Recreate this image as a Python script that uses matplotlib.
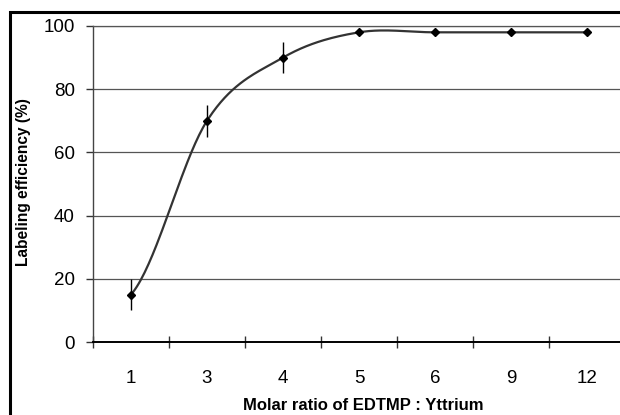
import numpy as np
import matplotlib
matplotlib.use("Agg")
import matplotlib.pyplot as plt
from matplotlib.patches import Rectangle

plt.rcParams['font.family'] = ['Liberation Sans', 'DejaVu Sans']

# data
ratios = ["1", "3", "4", "5", "6", "9", "12"]
efficiency = [15, 70, 90, 98, 98, 98, 98]
err = [5, 5, 5, 1, 0.5, 0.5, 0.5]
yticks = [0, 20, 40, 60, 80, 100]


def smooth_line(y, n=40):
    # Catmull-Rom curve through the points (like Excel's "smoothed line")
    y = np.asarray(y, float)
    pts = np.concatenate([[y[0]], y, [y[-1]]])
    xs, ys = [], []
    for i in range(len(y) - 1):
        p0, p1, p2, p3 = pts[i], pts[i + 1], pts[i + 2], pts[i + 3]
        t = np.linspace(0, 1, n)
        m1 = (p2 - p0) / 2
        m2 = (p3 - p1) / 2
        h00 = 2 * t**3 - 3 * t**2 + 1
        h10 = t**3 - 2 * t**2 + t
        h01 = -2 * t**3 + 3 * t**2
        h11 = t**3 - t**2
        xs.append(i + t)
        ys.append(h00 * p1 + h10 * m1 + h01 * p2 + h11 * m2)
    return np.concatenate(xs), np.concatenate(ys)


fig = plt.figure(figsize=(6.2, 4.15), dpi=100)
ax = fig.add_axes([93 / 620, 73 / 415, 532 / 620, 316 / 415])

x = np.arange(len(ratios))
sx, sy = smooth_line(efficiency)
ax.plot(sx, sy, color="#333333", lw=1.6, zorder=3)
ax.errorbar(x, efficiency, yerr=err, fmt="D", color="black", ms=4.5,
            elinewidth=1.0, capsize=0, zorder=4)

ax.set_xlim(-0.5, len(ratios) - 0.5)
ax.set_ylim(0, 100)
ax.set_yticks(yticks)
ax.yaxis.grid(True, color="#555555", lw=0.9)
ax.set_axisbelow(True)

ax.set_xticks(x)
ax.set_xticklabels(ratios)
ax.set_xticks(np.arange(len(ratios) + 1) - 0.5, minor=True)
ax.tick_params(axis="x", which="major", length=0, pad=20, labelsize=13.5)
ax.tick_params(axis="x", which="minor", direction="inout", length=8.5,
               width=1.0, color="#333333")
ax.tick_params(axis="y", direction="out", length=5, width=1.0,
               color="#333333", pad=8, labelsize=13.5)

ax.spines["right"].set_visible(False)
ax.spines["top"].set_color("#555555")
ax.spines["top"].set_linewidth(0.9)
ax.spines["left"].set_color("#444444")
ax.spines["left"].set_linewidth(1.0)
ax.spines["bottom"].set_color("black")
ax.spines["bottom"].set_linewidth(1.4)

fig.text(363 / 620, 1 - 405 / 415, "Molar ratio of EDTMP : Yttrium",
         ha="center", va="center", fontsize=12, fontweight="bold")
fig.text(24 / 620, 1 - 182 / 415, "Labeling efficiency (%)",
         ha="center", va="center", rotation=90, fontsize=11.2,
         fontweight="bold")

# outer frame of the original chart area (runs off the right/bottom edge)
fig.patches.append(Rectangle((10 / 620, -0.2), 1.2, 1.2 - 12 / 415,
                             transform=fig.transFigure, fill=False,
                             edgecolor="black", lw=2.2))

fig.savefig("out.png", dpi=100)
